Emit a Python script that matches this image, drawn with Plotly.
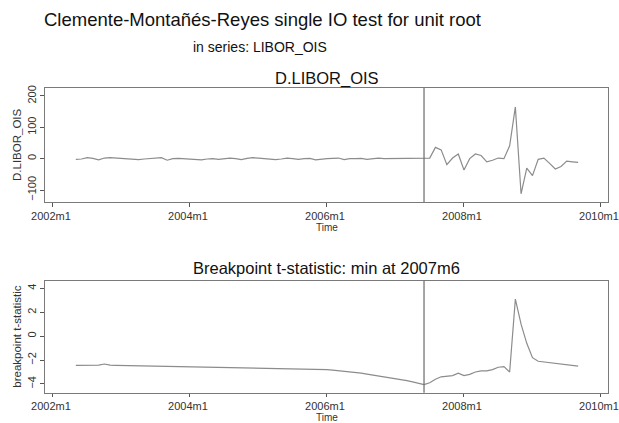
import plotly.graph_objects as go

# Month index: 0 = 2002m1
start_month = 4          # 2002m5
break_month = 65         # 2007m6
tick_months = [0, 24, 48, 72, 96]
tick_labels = ["2002m1", "2004m1", "2006m1", "2008m1", "2010m1"]

d_libor_ois = [
    -2, -1, 3, 1, -4, 2, 3, 2, 0, -2, -3, -3, -1, 1, 2, 3, -5, 0, 1, 0,
    -1, -2, -4, -1, 0, -2, 1, 2, 0, -3, 1, 3, 2, 0, -2, -3, -1, 2, 0, -2,
    0, 1, -4, -1, 0, 1, 2, -3, 0, 0, 1, -2, -1, 2, 0, 0, 0, 0, 0, 0, 0, 0,
    2, 36, 28, -19, 2, 15, -36, 0, 15, 10, -10, -5, 2, 0, 41, 165, -112,
    -30, -54, -2, 2, -15, -33, -25, -8, -10, -12,
]

breakpoint_t = [
    -2.45, -2.45, -2.45, -2.44, -2.42, -2.33, -2.42, -2.44, -2.45, -2.45,
    -2.46, -2.46, -2.47, -2.47, -2.47, -2.48, -2.48, -2.49, -2.50, -2.50,
    -2.51, -2.52, -2.53, -2.54, -2.55, -2.56, -2.57, -2.58, -2.59, -2.60,
    -2.61, -2.62, -2.63, -2.64, -2.65, -2.66, -2.67, -2.68, -2.69, -2.70,
    -2.72, -2.74, -2.76, -2.78, -2.80, -2.84, -2.88, -2.93, -2.98, -3.04,
    -3.10, -3.17, -3.24, -3.31, -3.38, -3.46, -3.54, -3.62, -3.72, -3.82,
    -3.95, -4.05,
    -3.9, -3.6, -3.4, -3.35, -3.3, -3.1, -3.3, -3.2, -3.0, -2.9, -2.9,
    -2.8, -2.6, -2.55, -3.0, 3.1, 1.0, -0.6, -1.8, -2.1, -2.15, -2.2,
    -2.3, -2.35, -2.4, -2.45, -2.5,
]

months = list(range(start_month, start_month + len(d_libor_ois)))

W, H = 619, 423
FONT = "Arial, Liberation Sans, sans-serif"
LINE = "#8c8c8c"
TXT = "#333333"

fig = go.Figure()
fig.add_trace(go.Scatter(x=months, y=d_libor_ois, mode="lines",
                         line=dict(color=LINE, width=1.2), xaxis="x", yaxis="y",
                         showlegend=False))
fig.add_trace(go.Scatter(x=months, y=breakpoint_t, mode="lines",
                         line=dict(color=LINE, width=1.2), xaxis="x2", yaxis="y2",
                         showlegend=False))

def px_x(p):
    return p / W

def px_y(p):
    return 1 - p / H

xdom = [px_x(45), px_x(608)]
axis_common = dict(showgrid=False, zeroline=False, showline=True, mirror=True,
                   linecolor="#7a7a7a", linewidth=1, ticks="outside",
                   tickcolor="#555555", tickfont=dict(family=FONT, size=11, color=TXT),
                   automargin=False, fixedrange=True, ticklabeloverflow="allow")

xr = [-1.40, 97.23]
fig.update_layout(
    width=W, height=H,
    margin=dict(l=0, r=0, t=0, b=0),
    paper_bgcolor="white", plot_bgcolor="white",
    font=dict(family=FONT, color=TXT),
    xaxis=dict(domain=xdom, range=xr, anchor="y", tickvals=tick_months, ticklen=4,
               ticktext=tick_labels, ticklabelshift=-2, **axis_common),
    yaxis=dict(domain=[px_y(202), px_y(88)], range=[-138.3, 225.5], anchor="x",
               ticklen=4, tickvals=[-100, 0, 100, 200], tickangle=-90, **axis_common),
    xaxis2=dict(domain=xdom, range=xr, anchor="y2", tickvals=tick_months, ticklen=3,
                ticktext=tick_labels, ticklabelshift=-2, **axis_common),
    yaxis2=dict(domain=[px_y(392.7), px_y(280.7)], range=[-4.73, 4.64], anchor="x2",
                ticklen=4, tickvals=[-4, -2, 0, 2, 4], tickangle=-90, **axis_common),
)

for xa, ya in (("x", "y domain"), ("x2", "y2 domain")):
    fig.add_shape(type="line", x0=break_month, x1=break_month, y0=0, y1=1,
                  xref=xa, yref=ya, line=dict(color="#6a6a6a", width=1.2))

def ann(text, x, y, size, color="#111111", angle=0):
    fig.add_annotation(text=text, x=px_x(x), y=px_y(y), xref="paper", yref="paper",
                       showarrow=False, xanchor="center", yanchor="middle",
                       textangle=angle, font=dict(family=FONT, size=size, color=color))

ann("Clemente-Montañés-Reyes single IO test for unit root", 262, 20, 18.5)
ann("in series: LIBOR_OIS", 260, 47, 14)
ann("D.LIBOR_OIS", 327, 78, 16.5)
ann("Breakpoint t-statistic: min at 2007m6", 326, 268, 16.5)
ann("Time", 327, 227, 10, TXT)
ann("Time", 327, 417, 10, TXT)
ann("D.LIBOR_OIS", 17, 145, 11.5, TXT, -90)
ann("breakpoint t-statistic", 17, 336.7, 11.5, TXT, -90)

fig.write_html(
    "out.html",
    config={"displayModeBar": False},
    post_script="document.body.style.margin='0';document.body.style.overflow='hidden';",
)
